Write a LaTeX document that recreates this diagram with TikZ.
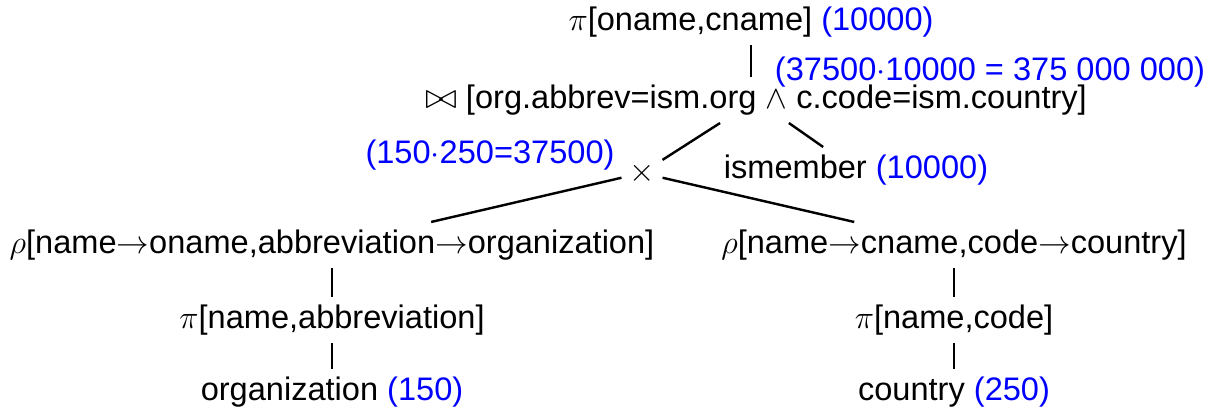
\documentclass[tikz,border=0pt]{standalone}
\usepackage{fontspec}
\setmainfont{Liberation Sans}
\begin{document}
\begin{tikzpicture}[x=0.764pt,y=-0.764pt,
  lab/.style={font=\fontsize{24.88}{30}\selectfont, inner sep=5.8pt, anchor=center},
  cost/.style={lab, text=blue},
  edge/.style={line width=1.85pt}]
\useasboundingbox (0,0) rectangle (1214,410);
\node[lab] (top) at (751,22) {$\pi$[oname,cname] \textcolor{blue}{(10000)}};
\node[lab] (join) at (756,100) {\scalebox{1.2}[1.1]{$\bowtie$} [org.abbrev=ism.org $\wedge$ c.code=ism.country]};
\node[cost] (cost1) at (990,72) {(37500$\cdot$10000 = 375 000 000)};
\node[lab] (cross) at (642,173) {$\times$};
\node[cost] (cost2) at (490,155) {(150$\cdot$250=37500)};
\node[lab] (ism) at (856,170) {ismember \textcolor{blue}{(10000)}};
\node[lab] (rhoL) at (332,245) {$\rho$[name$\rightarrow$oname,abbreviation$\rightarrow$organization]};
\node[lab] (rhoR) at (954,245) {$\rho$[name$\rightarrow$cname,code$\rightarrow$country]};
\node[lab] (piL) at (332,320) {$\pi$[name,abbreviation]};
\node[lab] (piR) at (954,320) {$\pi$[name,code]};
\node[lab] (org) at (332,392) {organization \textcolor{blue}{(150)}};
\node[lab] (cty) at (954,392) {country \textcolor{blue}{(250)}};
\draw[edge] (top) -- (top |- join.north);
\draw[edge] (join) -- (cross);
\draw[edge] (join) -- (ism);
\draw[edge] (cross) -- (rhoL);
\draw[edge] (cross) -- (rhoR);
\draw[edge] (rhoL) -- (piL);
\draw[edge] (piL) -- (org);
\draw[edge] (rhoR) -- (piR);
\draw[edge] (piR) -- (cty);
\end{tikzpicture}
\end{document}
